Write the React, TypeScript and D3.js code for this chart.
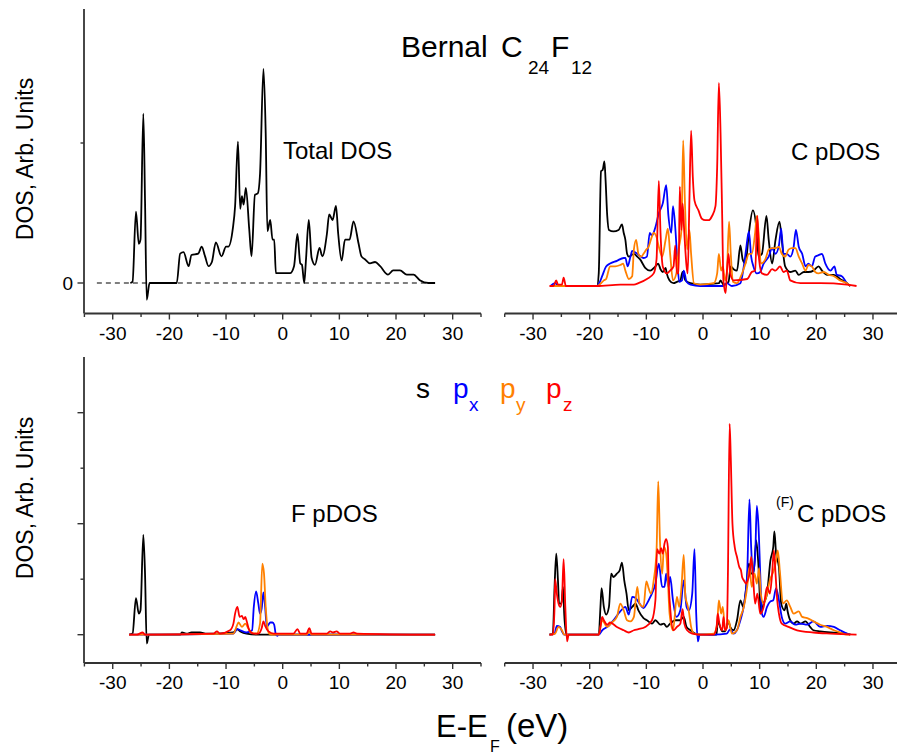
import React from 'react';
import * as d3 from 'd3';

type Pt = [number, number];

// ---------- axis ticks ----------
const xMajorTicks = [-30, -20, -10, 0, 10, 20, 30];
const xMinorTicks = [-35, -25, -15, -5, 5, 15, 25, 35];
const yTopMajor = [0];
const yTopMinor = [10];
const yBottomMajor = [0, 10, 20];
const yBottomMinor = [5, 15];
const dashedZero: Pt[] = [[-32.8, 0], [26.9, 0]];

// ---------- Total DOS ----------
const totalDos: Pt[] = [
  [-26.9, 0], [-26.5, 0.1], [-25.9, 5.1], [-25.4, 2.8], [-25.1, 3.1], [-24.6, 12.1], [-24.3, 5.9], [-24.0, -1.2],
  [-23.5, 0], [-18.7, 0], [-18.1, 2.1], [-17.5, 2.2], [-16.6, 1.2], [-16.1, 2.0], [-14.9, 2.1], [-14.3, 2.6],
  [-13.7, 1.9], [-13.1, 1.2], [-12.5, 1.5], [-11.8, 2.9], [-10.8, 1.9], [-10.0, 2.6], [-9.6, 2.6], [-8.8, 3.9],
  [-8.4, 5.5], [-7.9, 10.1], [-7.5, 5.3], [-7.2, 6.2], [-6.9, 5.6], [-6.5, 6.8], [-5.9, 3.8], [-5.5, 1.9],
  [-4.9, 6.3], [-4.4, 6.4], [-4.0, 7.8], [-3.4, 15.3], [-3.0, 10.7], [-2.7, 3.7], [-2.2, 4.5], [-1.8, 3.1],
  [-1.5, 3.1], [-1.2, 0.7], [-0.5, 0.7], [1.3, 0.7], [2.0, 1.2], [2.6, 3.5], [3.1, 1.4], [3.4, 1.3], [3.8, 0],
  [4.1, 1.6], [4.6, 4.5], [5.1, 1.8], [5.7, 1.3], [6.5, 2.5], [7.0, 1.9], [7.8, 3.5], [8.2, 4.9], [8.8, 4.5],
  [9.4, 5.5], [9.8, 3.5], [10.4, 1.6], [11.0, 3.1], [11.8, 3.1], [12.5, 4.4], [13.4, 2.8], [13.9, 1.9],
  [14.5, 1.7], [15.4, 1.4], [16.3, 1.5], [17.2, 1.2], [18.6, 0.6], [19.5, 0.9], [20.7, 0.9], [21.9, 0.6],
  [23.1, 0.6], [24.2, 0.2], [25.7, 0], [26.9, 0],
];

// ---------- C pDOS ----------
const cS: Pt[] = [
  [-26.9, 0], [-18.7, 0], [-18.4, 0.9], [-18.0, 8.2], [-17.7, 8.3], [-17.4, 8.9], [-17.2, 7.6], [-16.9, 5.0],
  [-16.6, 4.0], [-15.8, 3.9], [-14.9, 4.0], [-14.3, 4.4], [-14.0, 3.8], [-13.7, 3.3], [-13.4, 2.3], [-13.1, 2.1],
  [-12.2, 2.3], [-11.6, 2.1], [-11.1, 1.9], [-10.2, 1.3], [-9.3, 1.1], [-8.4, 1.4], [-7.9, 1.6], [-7.5, 1.2],
  [-7.1, 1.0], [-6.6, 1.3], [-6.4, 0.9], [-5.9, 0.4], [-5.2, 0.2], [-4.6, 0.3], [-4.0, 0.4], [-3.6, 1.0],
  [-3.1, 0.4], [-2.2, 0.2], [-0.5, 0.1], [2.8, 0.2], [3.1, 0.4], [3.6, 0.1], [4.5, 0.3], [4.9, 1.4], [5.4, 1.2],
  [6.0, 1.1], [6.6, 2.9], [7.0, 1.9], [7.5, 1.6], [8.1, 3.8], [8.8, 5.4], [9.4, 4.2], [9.8, 2.1], [10.4, 2.3],
  [11.2, 5.0], [11.6, 3.3], [12.2, 1.6], [12.8, 3.3], [13.5, 4.6], [13.9, 3.3], [14.5, 1.4], [15.4, 1.0],
  [16.3, 1.1], [16.9, 0.8], [17.8, 1.0], [18.6, 1.0], [19.5, 1.1], [20.4, 1.4], [21.0, 1.1], [21.9, 0.8],
  [23.1, 0.8], [24.2, 0.5], [25.4, 0.2], [26.0, 0],
];
const cPx: Pt[] = [
  [-26.9, 0], [-26.1, 0.2], [-25.5, 0], [-18.7, 0], [-18.2, 0.3], [-17.8, 0.7], [-17.1, 1.4], [-16.4, 1.6],
  [-15.2, 1.8], [-14.0, 2.0], [-13.7, 2.0], [-13.3, 1.4], [-12.8, 2.1], [-12.5, 2.5], [-11.6, 2.3], [-10.5, 2.0],
  [-9.9, 2.1], [-9.4, 3.8], [-9.0, 3.6], [-8.4, 4.2], [-7.8, 5.2], [-7.1, 5.9], [-6.5, 7.2], [-6.1, 5.0],
  [-5.6, 3.8], [-5.3, 5.7], [-4.9, 4.2], [-4.6, 2.3], [-4.2, 0.3], [-3.7, 0.4], [-3.4, 1.1], [-2.9, 0.3],
  [-2.2, 0.1], [-0.5, 0], [3.6, 0], [4.2, 0.2], [5.1, 0], [6.6, 0.2], [7.2, 1.4], [7.6, 2.6], [8.1, 3.9],
  [8.5, 2.1], [8.9, 1.4], [9.5, 0.9], [10.1, 1.0], [10.7, 1.6], [11.6, 2.1], [12.2, 2.7], [12.8, 2.3], [13.4, 2.9],
  [13.8, 4.1], [14.2, 2.3], [14.8, 2.3], [15.4, 2.1], [16.0, 2.8], [16.4, 4.0], [16.9, 2.8], [17.5, 2.3],
  [18.1, 1.4], [18.6, 1.6], [19.2, 1.4], [19.8, 2.1], [20.4, 2.2], [21.0, 2.3], [21.6, 1.6], [22.5, 1.1],
  [23.2, 1.4], [23.6, 0.8], [24.5, 0.7], [25.4, 0.2], [26.0, 0],
];
const cPy: Pt[] = [
  [-26.9, 0], [-18.7, 0], [-18.0, 0.2], [-17.5, 0.4], [-17.1, 0.5], [-16.4, 1.4], [-15.5, 1.4], [-14.6, 1.5],
  [-14.1, 1.6], [-13.7, 1.1], [-13.1, 0.5], [-12.5, 0.7], [-12.2, 2.6], [-11.8, 3.3], [-11.4, 2.3], [-10.9, 2.1],
  [-10.5, 2.3], [-10.0, 2.6], [-9.6, 2.8], [-9.2, 3.3], [-8.7, 3.8], [-8.2, 3.5], [-7.8, 2.8], [-7.2, 2.1],
  [-6.6, 3.3], [-6.2, 4.1], [-5.8, 2.3], [-5.3, 0.4], [-4.7, 0.9], [-4.3, 2.6], [-3.8, 4.0], [-3.5, 10.4],
  [-3.2, 6.1], [-2.8, 2.6], [-2.4, 4.0], [-2.1, 2.3], [-1.6, 0.2], [-0.5, 0.1], [1.9, 0.2], [2.5, 0.9],
  [2.8, 2.3], [3.2, 1.1], [3.5, 1.4], [3.9, 0.4], [4.2, 0.9], [4.6, 4.6], [4.9, 2.3], [5.3, 0.3], [6.0, 0.2],
  [6.7, 0.7], [7.5, 1.6], [8.1, 2.3], [8.6, 2.3], [9.2, 3.8], [9.5, 5.0], [9.9, 3.3], [10.2, 1.6], [11.0, 1.9],
  [11.6, 2.6], [12.2, 2.7], [12.8, 2.7], [13.4, 2.8], [13.9, 2.3], [14.5, 2.1], [15.1, 2.6], [15.7, 2.7],
  [16.3, 2.7], [16.9, 2.1], [17.5, 1.6], [18.1, 1.1], [18.6, 1.5], [19.2, 1.4], [19.8, 1.0], [20.4, 0.9],
  [21.3, 1.0], [22.2, 0.8], [23.1, 0.7], [24.2, 0.4], [25.4, 0.2], [26.0, 0],
];
const cPz: Pt[] = [
  [-27.1, 0], [-26.4, 0], [-25.9, 0.4], [-25.6, 0.1], [-24.9, 0.1], [-24.6, 0.6], [-24.2, 0], [-18.7, 0],
  [-14.6, 0.1], [-12.2, 0.1], [-11.4, 0.2], [-9.9, 0.5], [-8.7, 0.9], [-8.2, 1.9], [-7.8, 7.5], [-7.5, 3.8],
  [-7.1, 1.4], [-6.4, 0.9], [-5.8, 1.1], [-5.2, 1.4], [-4.9, 2.9], [-4.6, 0.9], [-4.3, 0.9], [-4.1, 7.1],
  [-3.8, 4.0], [-3.6, 5.9], [-3.3, 3.8], [-2.9, 1.4], [-2.7, 0.9], [-2.4, 6.1], [-2.1, 11.1], [-1.8, 7.8],
  [-1.5, 6.1], [-0.8, 5.4], [-0.2, 4.8], [0.4, 4.7], [1.0, 4.7], [1.6, 5.0], [2.2, 5.7], [2.5, 8.5], [2.8, 14.5],
  [3.1, 10.9], [3.4, 4.7], [3.6, 0.4], [4.0, -0.5], [4.2, 0.9], [4.5, 2.3], [4.8, 0.9], [5.4, 0.4], [7.8, 0.5],
  [8.6, 1.0], [9.2, 1.1], [9.6, 5.0], [9.9, 1.9], [10.4, 0.9], [11.3, 0.8], [12.2, 1.2], [12.8, 1.1], [13.6, 1.4],
  [14.2, 1.0], [14.8, 1.1], [15.4, 0.4], [17.2, 0.2], [20.7, 0.2], [25.4, 0.1], [27.1, 0],
];

// ---------- F pDOS ----------
const fS: Pt[] = [
  [-27.1, 0], [-26.5, 0.1], [-25.9, 3.3], [-25.4, 1.9], [-25.1, 2.2], [-24.6, 9.0], [-24.3, 5.5], [-24.0, -0.8],
  [-23.6, 0], [-18.1, 0], [-17.8, 0.2], [-16.9, 0.1], [-16.1, 0.2], [-14.6, 0.2], [-13.4, 0.1], [-11.6, 0.1],
  [-8.7, 0.2], [-8.1, 0.5], [-7.5, 0.3], [-6.4, 0.1], [-4.0, 0], [26.9, 0],
];
const fPx: Pt[] = [
  [-27.1, 0], [-8.7, 0.1], [-8.0, 0.5], [-7.5, 0.4], [-6.4, 0.2], [-5.4, 0.4], [-5.1, 2.5], [-4.7, 3.9],
  [-4.3, 2.8], [-4.0, 1.9], [-3.7, 2.4], [-3.4, 3.8], [-3.1, 2.5], [-2.8, 0.7], [-2.5, 0.9], [-2.2, 1.1],
  [-1.8, 1.1], [-1.5, 0.9], [-1.2, 0], [-0.9, -0.1], [-0.8, 0], [26.9, 0],
];
const fPy: Pt[] = [
  [-27.1, 0], [-8.7, 0.1], [-8.1, 0.8], [-7.8, 1.1], [-7.2, 0.7], [-6.6, 1.0], [-6.1, 0.6], [-5.5, 0.2],
  [-4.6, 0.1], [-4.0, 1.0], [-3.6, 6.4], [-3.3, 5.5], [-3.0, 2.5], [-2.7, 0.7], [-2.4, 0.1], [-1.6, 0],
  [4.2, 0], [4.7, 0.3], [5.1, 0], [26.9, 0],
];
const fPz: Pt[] = [
  [-27.1, 0], [-25.8, 0], [-24.7, 0.2], [-24.3, 0], [-12.2, 0.1], [-11.6, 0.3], [-11.1, 0.1], [-9.3, 0.4],
  [-8.7, 1.0], [-8.4, 1.9], [-8.0, 2.5], [-7.6, 1.6], [-7.2, 1.7], [-6.9, 1.4], [-6.6, 1.6], [-6.4, 1.3],
  [-5.9, 0.4], [-5.2, 0.1], [-4.3, 0.1], [-3.7, 0.6], [-3.4, 1.2], [-3.1, 0.8], [-2.5, 0.3], [-1.6, 0.1],
  [1.9, 0.1], [2.6, 0.5], [3.1, 0.1], [4.2, 0.1], [4.7, 0.6], [5.1, 0.1], [7.8, 0.1], [8.4, 0.3], [8.9, 0.2],
  [9.5, 0.3], [10.1, 0.1], [11.9, 0.1], [12.5, 0.2], [13.1, 0.1], [26.9, 0],
];

// ---------- (F)C pDOS ----------
const fcS: Pt[] = [
  [-27.1, 0], [-26.5, 0.1], [-26.2, 4.3], [-25.9, 7.3], [-25.6, 4.9], [-25.4, 2.8], [-25.0, 2.8], [-24.7, 4.3],
  [-24.5, 1.9], [-24.1, 0], [-18.4, 0], [-18.1, 2.5], [-17.9, 4.2], [-17.5, 2.5], [-17.1, 1.8], [-16.6, 2.5],
  [-16.2, 5.5], [-15.8, 5.2], [-15.2, 5.5], [-14.7, 5.8], [-14.3, 6.5], [-13.9, 4.9], [-13.5, 3.7], [-13.1, 2.2],
  [-12.5, 2.5], [-11.9, 2.8], [-11.4, 2.2], [-10.5, 1.5], [-9.9, 1.3], [-9.0, 1.0], [-8.4, 1.3], [-7.5, 0.9],
  [-6.9, 1.0], [-6.4, 0.7], [-5.8, 1.0], [-4.9, 1.3], [-4.0, 1.3], [-3.4, 1.6], [-2.9, 0.7], [-2.2, 0.4],
  [-1.4, 0.1], [-0.5, 0], [2.4, 0], [2.6, 1.3], [2.9, 0.9], [3.4, 0.3], [3.9, 0.3], [4.5, 1.2], [4.8, 0.7],
  [5.4, 0.4], [6.0, 1.3], [6.6, 3.1], [7.1, 2.5], [7.5, 3.7], [8.1, 6.4], [8.5, 5.5], [8.9, 5.5], [9.4, 8.5],
  [9.8, 6.1], [10.2, 1.9], [10.7, 2.8], [11.3, 3.7], [11.9, 6.7], [12.4, 7.9], [12.6, 9.3], [12.9, 7.3],
  [13.4, 6.1], [13.8, 2.8], [14.4, 2.2], [14.7, 2.8], [14.9, 2.2], [15.4, 1.3], [16.0, 1.0], [16.6, 1.2],
  [17.2, 1.0], [18.1, 1.2], [18.9, 0.7], [19.5, 0.4], [20.7, 0.3], [22.5, 0.2], [25.4, 0.1], [26.0, 0],
];
const fcPx: Pt[] = [
  [-27.1, 0], [-26.2, 0.1], [-25.8, 0.8], [-25.2, 0.7], [-24.9, 0.3], [-24.5, 0], [-18.4, 0], [-17.8, 0.4],
  [-16.9, 0.7], [-15.8, 1.3], [-14.6, 2.1], [-13.7, 2.5], [-13.1, 1.8], [-12.5, 3.4], [-11.9, 3.3], [-11.2, 2.8],
  [-10.5, 2.4], [-9.9, 2.8], [-9.3, 3.4], [-8.4, 4.6], [-7.8, 6.4], [-7.2, 4.3], [-6.8, 4.3], [-6.5, 5.5],
  [-6.1, 4.3], [-5.8, 5.2], [-5.3, 3.1], [-4.7, 1.6], [-4.0, 2.2], [-3.4, 4.9], [-2.9, 2.5], [-2.5, 2.2],
  [-1.9, 3.7], [-1.5, 7.7], [-1.2, 1.9], [-0.9, -0.6], [-0.6, 0], [1.9, 0], [4.2, 0.1], [4.8, 0.5], [5.4, 0.1],
  [6.6, 1.3], [7.5, 3.7], [7.8, 5.5], [8.2, 12.2], [8.5, 7.9], [8.8, 5.5], [9.2, 7.0], [9.5, 11.6], [9.8, 9.7],
  [10.1, 5.5], [10.4, 1.9], [10.7, 1.6], [11.3, 2.5], [11.9, 3.0], [12.4, 3.1], [12.9, 4.2], [13.4, 3.1],
  [13.9, 1.6], [14.5, 1.0], [15.4, 1.2], [16.3, 0.9], [17.2, 1.0], [18.4, 0.9], [19.5, 1.2], [20.7, 0.7],
  [21.9, 0.8], [23.1, 0.7], [24.2, 0.4], [25.4, 0.1], [26.0, 0],
];
const fcPy: Pt[] = [
  [-27.1, 0], [-26.1, 0.1], [-25.5, 0.7], [-24.9, 0.4], [-24.5, 0], [-18.4, 0], [-17.8, 1.3], [-16.9, 0.7],
  [-16.1, 1.1], [-15.2, 1.6], [-14.6, 2.8], [-14.0, 2.2], [-13.4, 1.3], [-12.8, 1.2], [-12.2, 1.6], [-11.6, 4.3],
  [-11.2, 2.8], [-10.5, 2.5], [-10.0, 4.8], [-9.6, 4.2], [-9.2, 3.7], [-8.7, 4.9], [-8.2, 7.6], [-7.9, 13.8],
  [-7.6, 8.5], [-7.2, 5.5], [-6.9, 7.9], [-6.5, 7.3], [-6.2, 4.9], [-5.9, 1.9], [-5.3, 0.4], [-4.6, 3.4],
  [-4.2, 2.5], [-3.8, 4.3], [-3.4, 7.2], [-3.1, 3.4], [-2.8, 2.8], [-2.5, 2.1], [-2.1, 0.7], [-1.6, 0.1],
  [-0.5, 0], [1.9, 0.1], [2.5, 1.0], [2.8, 3.1], [3.2, 1.9], [3.5, 2.5], [3.9, 0.4], [4.2, 0.7], [4.5, 1.3],
  [5.1, 0.1], [6.0, 0.4], [6.6, 1.6], [7.2, 2.5], [7.8, 4.3], [8.2, 6.1], [8.6, 4.3], [9.1, 5.5], [9.5, 4.6],
  [9.9, 6.0], [10.2, 3.7], [10.7, 2.8], [11.3, 3.7], [11.8, 4.9], [12.5, 5.8], [12.9, 6.7], [13.2, 7.6],
  [13.6, 5.5], [14.1, 2.8], [14.8, 3.1], [15.4, 2.5], [16.0, 1.9], [16.9, 2.1], [17.5, 1.6], [18.4, 1.5],
  [19.5, 1.2], [20.7, 0.9], [21.9, 0.7], [23.1, 0.4], [24.2, 0.2], [25.4, 0], [26.0, 0],
];
const fcPz: Pt[] = [
  [-27.1, 0], [-26.5, 0], [-26.2, 2.5], [-26.1, 5.0], [-25.8, 3.7], [-25.5, 2.8], [-25.2, 2.5], [-24.9, 3.1],
  [-24.6, 6.8], [-24.3, 2.5], [-24.0, -0.6], [-23.7, 0], [-18.4, 0], [-18.1, 0.7], [-17.8, 1.6], [-17.5, 1.3],
  [-16.9, 0.9], [-16.4, 1.1], [-15.2, 0.7], [-14.0, 0.4], [-13.1, 0.2], [-12.2, 0.4], [-11.4, 0.5], [-10.2, 0.7],
  [-9.0, 1.3], [-8.4, 3.1], [-8.1, 7.7], [-7.7, 7.3], [-7.4, 7.8], [-7.1, 7.3], [-6.8, 8.2], [-6.5, 8.6],
  [-6.2, 7.9], [-6.1, 5.5], [-5.8, 2.5], [-5.2, 0.4], [-4.6, 0.7], [-4.0, 1.0], [-3.6, 2.3], [-3.3, 1.0],
  [-2.8, 0.4], [-1.9, 0.1], [-0.5, 0], [1.9, 0], [2.4, 0.7], [2.6, 1.9], [2.9, 1.0], [3.4, 0.4], [3.6, 1.6],
  [3.9, 0.4], [4.2, 0.6], [4.4, 5.5], [4.7, 19.0], [4.9, 16.0], [5.2, 10.0], [5.6, 7.9], [6.0, 7.0], [6.4, 6.1],
  [6.7, 5.8], [6.9, 5.2], [7.2, 4.9], [7.6, 4.6], [7.9, 4.9], [8.2, 5.5], [8.5, 7.0], [8.8, 5.5], [9.2, 2.8],
  [9.6, 3.7], [10.1, 1.9], [10.7, 2.5], [11.3, 4.3], [11.8, 3.7], [12.2, 5.5], [12.5, 7.6], [12.8, 5.5],
  [13.1, 3.1], [13.4, 1.9], [13.9, 1.0], [15.1, 0.7], [16.6, 0.4], [19.5, 0.2], [22.5, 0.1], [27.1, 0],
];

const COLORS = { s: '#000000', px: '#0000ff', py: '#ff8000', pz: '#ff0000' };
const FONT = '"Liberation Sans", Arial, Helvetica, sans-serif';
const AXIS = '#333333';

type Scale = d3.ScaleLinear<number, number>;

function Curve({ data, x, y, color }: { data: Pt[]; x: Scale; y: Scale; color: string }) {
  const line = d3
    .line<Pt>()
    .x((d) => x(d[0]))
    .y((d) => y(d[1]))
    .curve(d3.curveMonotoneX);
  return <path d={line(data) || ''} fill="none" stroke={color} strokeWidth={1.8} strokeLinejoin="round" />;
}

function XAxis({ x, yPos }: { x: Scale; yPos: number }) {
  const [r0, r1] = x.range();
  return (
    <g>
      <line x1={r0} x2={r1} y1={yPos} y2={yPos} stroke={AXIS} strokeWidth={1.8} />
      {xMajorTicks.map((t) => (
        <g key={'M' + t}>
          <line x1={x(t)} x2={x(t)} y1={yPos} y2={yPos + 6} stroke={AXIS} strokeWidth={1.4} />
          <text x={x(t)} y={yPos + 26} textAnchor="middle" fontSize={19} fontFamily={FONT} fill="#000">
            {t}
          </text>
        </g>
      ))}
      {xMinorTicks.map((t) => (
        <line key={'m' + t} x1={x(t)} x2={x(t)} y1={yPos} y2={yPos + 3.5} stroke={AXIS} strokeWidth={1.4} />
      ))}
    </g>
  );
}

function YAxis({ y, xPos, top, bottom, major, minor, label }: {
  y: Scale; xPos: number; top: number; bottom: number; major: number[]; minor: number[]; label: boolean;
}) {
  return (
    <g>
      <line x1={xPos} x2={xPos} y1={top} y2={bottom} stroke={AXIS} strokeWidth={1.8} />
      {major.map((t) => (
        <g key={'M' + t}>
          <line x1={xPos - 6.5} x2={xPos} y1={y(t)} y2={y(t)} stroke={AXIS} strokeWidth={1.4} />
          {label && (
            <text x={73} y={y(t) + 6.8} textAnchor="end" fontSize={19} fontFamily={FONT} fill="#000">
              {t}
            </text>
          )}
        </g>
      ))}
      {minor.map((t) => (
        <line key={'m' + t} x1={xPos - 3.5} x2={xPos} y1={y(t)} y2={y(t)} stroke={AXIS} strokeWidth={1.4} />
      ))}
    </g>
  );
}

export default function App() {
  const W = 897;
  const H = 756;
  const xL = d3.scaleLinear().domain([-35, 35]).range([84.4, 481]);
  const xR = d3.scaleLinear().domain([-35, 35]).range([504.7, 901.3]);
  const yTL = d3.scaleLinear().domain([0, 10]).range([283, 143]);
  const yTR = d3.scaleLinear().domain([0, 10]).range([286, 146]);
  const yB = d3.scaleLinear().domain([0, 20]).range([634.7, 412.7]);

  const four = (s: Pt[], px: Pt[], py: Pt[], pz: Pt[], x: Scale, y: Scale) => (
    <g>
      <Curve data={s} x={x} y={y} color={COLORS.s} />
      <Curve data={px} x={x} y={y} color={COLORS.px} />
      <Curve data={py} x={x} y={y} color={COLORS.py} />
      <Curve data={pz} x={x} y={y} color={COLORS.pz} />
    </g>
  );

  return (
    <div style={{ position: 'absolute', left: 0, top: 0 }}>
      <svg width={W} height={H} style={{ display: 'block' }} fontFamily={FONT}>
        <rect x={0} y={0} width={W} height={H} fill="#ffffff" />

        {/* Top-left: Total DOS */}
        <YAxis y={yTL} xPos={84} top={9} bottom={313.5} major={yTopMajor} minor={yTopMinor} label={true} />
        <XAxis x={xL} yPos={313.5} />
        <line
          x1={xL(dashedZero[0][0])}
          x2={xL(dashedZero[1][0])}
          y1={yTL(dashedZero[0][1])}
          y2={yTL(dashedZero[1][1])}
          stroke="#000"
          strokeWidth={1.2}
          strokeDasharray="5,4"
        />
        <Curve data={totalDos} x={xL} y={yTL} color="#000" />
        <text x={283} y={159} fontSize={24} fill="#000">Total DOS</text>

        {/* Top-right: C pDOS */}
        <XAxis x={xR} yPos={313.5} />
        {four(cS, cPx, cPy, cPz, xR, yTR)}
        <text x={791} y={160} fontSize={24} fill="#000">C pDOS</text>

        {/* Bottom-left: F pDOS */}
        <YAxis y={yB} xPos={84} top={357} bottom={663} major={yBottomMajor} minor={yBottomMinor} label={false} />
        <XAxis x={xL} yPos={663} />
        {four(fS, fPx, fPy, fPz, xL, yB)}
        <text x={291} y={521.5} fontSize={24} fill="#000">F pDOS</text>

        {/* Bottom-right: (F)C pDOS */}
        <XAxis x={xR} yPos={663} />
        {four(fcS, fcPx, fcPy, fcPz, xR, yB)}
        <text x={776} y={507} fontSize={14} fill="#000">(F)</text>
        <text x={797} y={521.5} fontSize={24} fill="#000">C pDOS</text>

        {/* Title */}
        <text x={401} y={57} fontSize={30} fill="#000">Bernal</text>
        <text x={501} y={57} fontSize={30} fill="#000">C</text>
        <text x={528} y={74} fontSize={19} fill="#000">24</text>
        <text x={551} y={57} fontSize={30} fill="#000">F</text>
        <text x={571} y={74} fontSize={19} fill="#000">12</text>

        {/* Legend */}
        <text x={416} y={398} fontSize={28} fill={COLORS.s}>s</text>
        <text x={453} y={398} fontSize={28} fill={COLORS.px}>p</text>
        <text x={469} y={411} fontSize={19} fill={COLORS.px}>x</text>
        <text x={500} y={398} fontSize={28} fill={COLORS.py}>p</text>
        <text x={516} y={411} fontSize={19} fill={COLORS.py}>y</text>
        <text x={546} y={398} fontSize={28} fill={COLORS.pz}>p</text>
        <text x={563} y={411} fontSize={19} fill={COLORS.pz}>z</text>

        {/* Y labels */}
        <text transform="translate(33,159) rotate(-90)" textAnchor="middle" fontSize={23} fill="#000">
          DOS, Arb. Units
        </text>
        <text transform="translate(33,498) rotate(-90)" textAnchor="middle" fontSize={23} fill="#000">
          DOS, Arb. Units
        </text>

        {/* X label */}
        <text x={436} y={737} fontSize={31} fill="#000">E-E</text>
        <text x={490} y={752} fontSize={16} fill="#000">F</text>
        <text x={506} y={737} fontSize={33} fill="#000">(eV)</text>
      </svg>
    </div>
  );
}
